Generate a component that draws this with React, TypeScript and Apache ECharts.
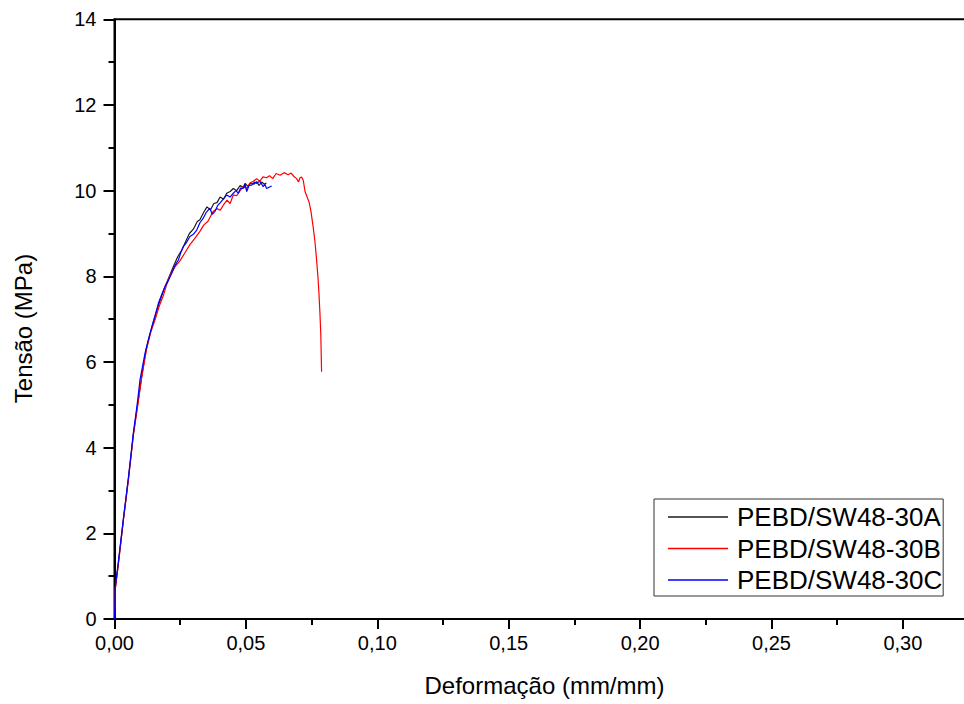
import React, { useEffect, useRef } from "react";
import * as echarts from "echarts";

const seriesNames = ["PEBD/SW48-30A", "PEBD/SW48-30B", "PEBD/SW48-30C"];
const seriesColors = ["#1a1a1a", "#ff0000", "#0000ff"];

const strainA = [0, 0.0003, 0.0015, 0.0034, 0.0053, 0.0072, 0.009, 0.0105, 0.012, 0.0135, 0.015, 0.0165, 0.018, 0.0195, 0.021, 0.0225, 0.024, 0.0255, 0.027, 0.0285, 0.03, 0.0315, 0.0325, 0.034, 0.0352, 0.0365, 0.0378, 0.039, 0.0402, 0.0415, 0.0427, 0.044, 0.0452, 0.0465, 0.0478, 0.049, 0.0497, 0.0508, 0.052, 0.053, 0.0541, 0.055, 0.056, 0.057, 0.0578];
const stressA = [0, 0.72, 1.32, 2.33, 3.28, 4.33, 5.1, 5.72, 6.28, 6.65, 6.98, 7.28, 7.55, 7.8, 8.02, 8.24, 8.45, 8.6, 8.8, 9.0, 9.1, 9.28, 9.32, 9.5, 9.62, 9.55, 9.7, 9.72, 9.85, 9.8, 9.94, 9.98, 10.05, 10.0, 10.12, 10.08, 10.17, 10.1, 10.18, 10.15, 10.21, 10.12, 10.2, 10.15, 10.18];

const strainB = [0, 0.0003, 0.0015, 0.0034, 0.0053, 0.0072, 0.009, 0.0103, 0.0122, 0.0138, 0.0154, 0.017, 0.0186, 0.0198, 0.0211, 0.023, 0.0249, 0.0268, 0.0287, 0.0305, 0.0325, 0.034, 0.0355, 0.0376, 0.039, 0.0402, 0.0414, 0.0428, 0.044, 0.0452, 0.0465, 0.0478, 0.049, 0.0503, 0.0515, 0.0528, 0.0541, 0.0553, 0.0565, 0.0578, 0.059, 0.0602, 0.0615, 0.063, 0.0645, 0.0661, 0.0672, 0.0683, 0.0693, 0.07, 0.0706, 0.0712, 0.0718, 0.0725, 0.0733, 0.0741, 0.0748, 0.0756, 0.0763, 0.0769, 0.0774, 0.0778, 0.0782, 0.0785, 0.0788];
const stressB = [0, 0.7, 1.3, 2.31, 3.25, 4.3, 5.05, 5.62, 6.3, 6.7, 6.98, 7.3, 7.55, 7.8, 8.02, 8.22, 8.36, 8.55, 8.74, 8.88, 9.05, 9.2, 9.28, 9.52, 9.58, 9.54, 9.66, 9.78, 9.7, 9.9, 9.88, 10.0, 10.1, 10.05, 10.18, 10.22, 10.28, 10.22, 10.32, 10.3, 10.35, 10.28, 10.4, 10.36, 10.42, 10.37, 10.41, 10.33, 10.28, 10.2, 10.3, 10.32, 10.25, 9.98, 9.85, 9.72, 9.5, 9.15, 8.8, 8.38, 8.0, 7.6, 7.1, 6.65, 5.77];

const strainC = [0, 0.0003, 0.0015, 0.0034, 0.0053, 0.0072, 0.0085, 0.0097, 0.0116, 0.013, 0.0142, 0.0155, 0.0167, 0.018, 0.0192, 0.0205, 0.0218, 0.023, 0.0243, 0.0252, 0.0262, 0.0275, 0.0287, 0.03, 0.0313, 0.0325, 0.0338, 0.035, 0.0363, 0.0372, 0.0382, 0.0392, 0.0401, 0.0414, 0.0427, 0.044, 0.0452, 0.0462, 0.0471, 0.048, 0.049, 0.0497, 0.0503, 0.0512, 0.0522, 0.0532, 0.0541, 0.0553, 0.0566, 0.0572, 0.0579, 0.0588, 0.0598];
const stressC = [0, 0.75, 1.35, 2.35, 3.3, 4.35, 4.95, 5.58, 6.2, 6.55, 6.82, 7.1, 7.37, 7.58, 7.76, 7.9, 8.07, 8.25, 8.38, 8.55, 8.69, 8.8, 8.93, 8.98, 9.08, 9.25, 9.36, 9.5, 9.59, 9.45, 9.51, 9.65, 9.71, 9.8, 9.9, 9.85, 9.94, 10.0, 9.94, 10.06, 10.05, 10.15, 9.98, 10.12, 10.13, 10.2, 10.17, 10.22, 10.09, 10.15, 10.05, 10.08, 10.11];

const xTitle = "Deformação (mm/mm)";
const yTitle = "Tensão (MPa)";

const FONT = "'Liberation Sans', Arial, sans-serif";

function pairs(xs: number[], ys: number[]) {
  return xs.map((x, i) => [x, ys[i]]);
}

export default function App() {
  const ref = useRef<HTMLDivElement>(null);
  useEffect(() => {
    if (!ref.current) return;
    const chart = echarts.init(ref.current, undefined, { renderer: "svg" });
    const dataSets = [pairs(strainA, stressA), pairs(strainB, stressB), pairs(strainC, stressC)];
    chart.setOption({
      animation: false,
      backgroundColor: "#ffffff",
      grid: {
        left: 114.5,
        top: 19.3,
        bottom: 85,
        right: 65.7,
        show: true,
        borderColor: "#000",
        borderWidth: 2,
      },
      legend: {
        orient: "vertical",
        left: 654,
        top: 499,
        data: seriesNames,
        icon: "rect",
        borderColor: "#333",
        borderWidth: 1,
        padding: [4, 1, 2, 14],
        itemWidth: 60,
        itemHeight: 1.5,
        itemGap: 3.5,
        textStyle: {
          fontFamily: FONT,
          fontSize: 26,
          lineHeight: 28,
          color: "#000",
          padding: [0, 0, 0, 4],
        },
      },
      xAxis: {
        type: "value",
        min: 0,
        max: 0.35,
        interval: 0.05,
        axisLine: { show: true, onZero: false, lineStyle: { color: "#000", width: 2 } },
        axisTick: { show: true, length: 10, lineStyle: { color: "#000", width: 2 } },
        minorTick: { show: true, splitNumber: 2, length: 6, lineStyle: { color: "#000", width: 2 } },
        splitLine: { show: false },
        axisLabel: {
          margin: 14,
          fontFamily: FONT,
          fontSize: 20,
          color: "#000",
          showMaxLabel: false,
          formatter: (v: number) => (v > 0.31 ? "" : v.toFixed(2).replace(".", ",")),
        },
      },
      yAxis: {
        type: "value",
        min: 0,
        max: 14,
        interval: 2,
        axisLine: { show: true, onZero: false, lineStyle: { color: "#000", width: 2 } },
        axisTick: { show: true, length: 11, lineStyle: { color: "#000", width: 2 } },
        minorTick: { show: true, splitNumber: 2, length: 6, lineStyle: { color: "#000", width: 2 } },
        splitLine: { show: false },
        axisLabel: {
          margin: 18,
          fontFamily: FONT,
          fontSize: 20,
          color: "#000",
        },
      },
      graphic: [
        {
          type: "text",
          x: 544.5,
          y: 673,
          style: {
            text: xTitle,
            fontFamily: FONT,
            fontSize: 24,
            fill: "#000",
            align: "center",
            verticalAlign: "top",
          },
        },
        {
          type: "text",
          x: 23,
          y: 328.5,
          rotation: Math.PI / 2,
          style: {
            text: yTitle,
            fontFamily: FONT,
            fontSize: 24,
            fill: "#000",
            align: "center",
            verticalAlign: "middle",
          },
        },
      ],
      series: seriesNames.map((name, i) => ({
        name,
        type: "line",
        data: dataSets[i],
        symbol: "none",
        showSymbol: false,
        smooth: false,
        color: seriesColors[i],
        itemStyle: { color: seriesColors[i] },
        lineStyle: { color: seriesColors[i], width: 1.2 },
        z: 2 + i,
      })),
    });
    return () => chart.dispose();
  }, []);
  return (
    <div
      style={{
        position: "fixed",
        left: 0,
        top: 0,
        width: 964,
        height: 704,
        overflow: "hidden",
        background: "#fff",
      }}
    >
      <div ref={ref} style={{ width: 1100, height: 704 }} />
    </div>
  );
}
